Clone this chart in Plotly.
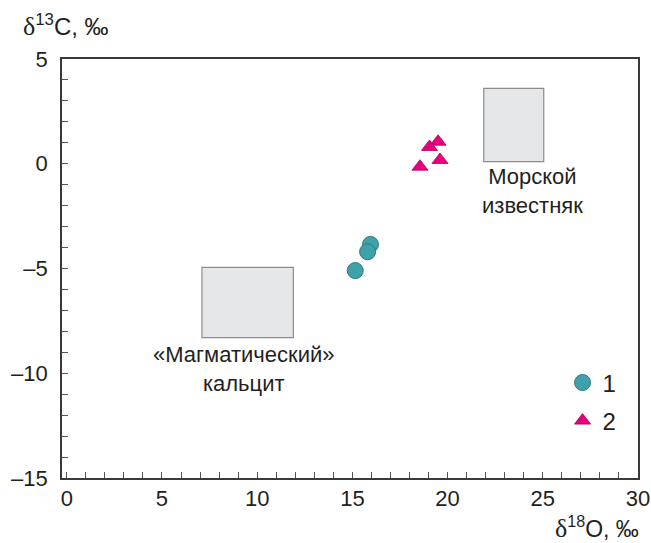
import plotly.graph_objects as go

# Isotope data, per mille
group1_d18o = [15.95, 15.80, 15.15]
group1_d13c = [-3.85, -4.20, -5.10]
group2_d18o = [19.50, 19.05, 19.60, 18.55]
group2_d13c = [1.05, 0.80, 0.18, -0.14]
series_names = ["1", "2"]

# Reference fields: [x0, x1, y0, y1]
marine_field = [21.9, 25.05, 0.1, 3.6]
magmatic_field = [7.1, 11.9, -8.3, -4.95]
marine_label = "Морской<br>известняк"
magmatic_label = "«Магматический»<br>кальцит"

x_ticks = [0, 5, 10, 15, 20, 25, 30]
y_ticks = [5, 0, -5, -10, -15]
y_ticktext = ["5", "0", "–5", "–10", "–15"]

FONT = "Liberation Sans, Arial, sans-serif"
INK = "#231f20"
FIELD_FILL = "#e6e7e8"
FIELD_LINE = "#8c8c8c"

fig = go.Figure()
fig.add_trace(go.Scatter(
    x=group1_d18o, y=group1_d13c, mode="markers", name=series_names[0],
    marker=dict(symbol="circle", size=16, color="#3fa2aa",
                line=dict(color="#2d7a80", width=1)),
    legend="legend",
))
fig.add_trace(go.Scatter(
    x=group2_d18o, y=group2_d13c, mode="markers", name=series_names[1],
    marker=dict(symbol="triangle-up", size=14, color="#e6007e",
                line=dict(color="#b0005f", width=0.8)),
    legend="legend2",
))

for fld in (marine_field, magmatic_field):
    fig.add_shape(type="rect", xref="x", yref="y",
                  x0=fld[0], x1=fld[1], y0=fld[2], y1=fld[3],
                  fillcolor=FIELD_FILL, line=dict(color=FIELD_LINE, width=1.2),
                  layer="below")

fig.add_annotation(x=24.45, y=-1.3, text=marine_label, showarrow=False,
                   font=dict(family=FONT, size=22, color=INK))
fig.add_annotation(x=9.3, y=-9.8, text=magmatic_label, showarrow=False,
                   font=dict(family=FONT, size=22, color=INK))

delta = '<span style="font-family:Liberation Serif, serif;font-size:26px">δ</span>'
fig.add_annotation(xref="paper", yref="paper", x=-0.071, y=1.08,
                   xanchor="left", yanchor="middle",
                   text=delta + "<sup>13</sup>C, ‰", showarrow=False,
                   font=dict(family=FONT, size=24, color=INK))
fig.add_annotation(xref="paper", yref="paper", x=1.006, y=-0.117,
                   xanchor="right", yanchor="middle",
                   text=delta + "<sup>18</sup>O, ‰", showarrow=False,
                   font=dict(family=FONT, size=23, color=INK))

axis_common = dict(
    showgrid=False, zeroline=False, showline=True, linecolor="#3a3a3a",
    linewidth=1.6, mirror=True, ticks="inside", ticklen=6, tickwidth=1,
    tickcolor="#555555", tickfont=dict(family=FONT, size=22, color=INK),
    minor=dict(ticks="inside", dtick=1, ticklen=6, tickwidth=1,
               tickcolor="#555555"),
    automargin=False,
)
fig.update_xaxes(range=[-0.25, 30], tickvals=x_ticks, **axis_common)
fig.update_yaxes(range=[-15, 5], tickvals=y_ticks, ticktext=y_ticktext,
                 ticklabelstandoff=8, **axis_common)

legend_common = dict(
    xanchor="left", yanchor="middle", bgcolor="rgba(0,0,0,0)",
    font=dict(family=FONT, size=24, color=INK), borderwidth=0,
)
fig.update_layout(
    width=651, height=543,
    margin=dict(l=62, r=13, t=59, b=65, autoexpand=False),
    paper_bgcolor="white", plot_bgcolor="white",
    showlegend=True,
    legend=dict(x=0.869, y=0.227, **legend_common),
    legend2=dict(x=0.869, y=0.136, **legend_common),
)

fig.write_html("out.html")
